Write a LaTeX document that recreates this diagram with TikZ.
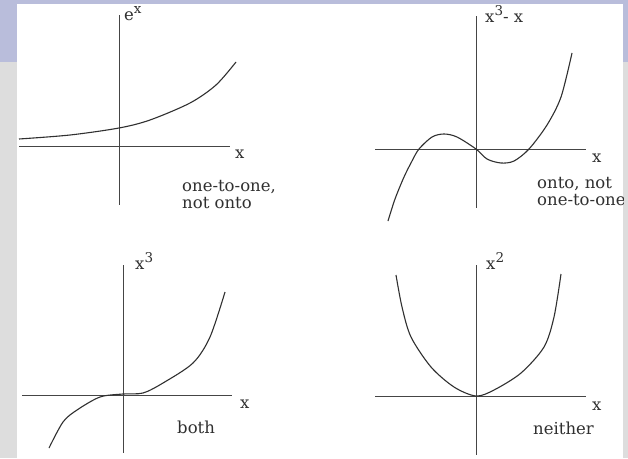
\documentclass[tikz,border=0pt]{standalone}
\usepackage{fontspec}
\setmainfont{DejaVu Serif}
\usetikzlibrary{positioning}
\definecolor{SBand}{HTML}{B9BDDB}
\definecolor{SGray}{HTML}{DDDDDD}
\definecolor{PInk}{HTML}{303030}
\newcommand\upind[1]{\raisebox{0.42em}{\fontsize{13.5}{13.5}\selectfont#1}}

\begin{document}
\begin{tikzpicture}[x=1pt,y=-1pt,
  axis/.style={draw=PInk!90,line width=0.9pt},
  curve/.style={draw=PInk,line width=1.1pt,smooth},
  lbl/.style={anchor=base west,inner sep=0pt,text=PInk,
    font=\fontsize{16.5}{18}\selectfont},
  note/.style={lbl,font=\fontsize{16.5}{18}\selectfont}
]
  \useasboundingbox (0,0) rectangle (628,458);
  \fill[SGray] (0,0) rectangle (628,458);
  \fill[SBand] (0,0) rectangle (628,62);
  \fill[white] (17,4) rectangle (623,458);

  \begin{scope}
  \clip (17,4) rectangle (623,458);

  \draw[axis] (119,15) -- (119,205);
  \draw[axis] (19,146) -- (230,146);
  \draw[curve] plot coordinates {(19,139) (70,135) (119,128) (150,120)
    (190,103) (216,85) (236,62)};
  \node[lbl] (ex) at (124,20) {e\upind{x}};
  \node[lbl] (xa) at (235,158) {x};
  \node[note] (ta1) at (182,191) {one-to-one,};
  \node[note] (ta2) at (182,208) {not onto};

  \draw[axis] (476,16) -- (476,208);
  \draw[axis] (375,149) -- (586,149);
  \draw[curve] plot coordinates {(388,221) (395,199) (404,177) (412,161)
    (419,149) (432,137) (444,134) (457,137) (476,149) (487,159) (501,163)
    (514,161) (529,149) (547,125) (561,97) (572,53)};
  \node[lbl] (cub) at (485,22) {x\upind{3}- x};
  \node[lbl] (xb) at (592,162) {x};
  \node[note] (tb1) at (537,188) {onto, not};
  \node[note] (tb2) at (537,205) {one-to-one};

  \draw[axis] (123,265) -- (123,453);
  \draw[axis] (22,395) -- (232,395);
  \draw[curve] plot coordinates {(49,448) (63,422) (77,410) (100,397)
    (123,394) (143,393) (163,383) (193,363) (210,337) (225,292)};
  \node[lbl] (x3) at (135,269) {x\upind{3}};
  \node[lbl] (xc) at (240,408) {x};
  \node[note] (tc) at (177,433) {both};

  \draw[axis] (476,265) -- (476,455);
  \draw[axis] (375,396) -- (586,396);
  \draw[curve] plot coordinates {(396,275) (402,307) (411,337) (431,367)
    (454,387) (476,396) (494,390) (521,373) (544,347) (554,317) (561,274)};
  \node[lbl] (x2) at (486,269) {x\upind{2}};
  \node[lbl] (xd) at (592,410) {x};
  \node[note] (td) at (533,434) {neither};
  \end{scope}
\end{tikzpicture}
\end{document}
